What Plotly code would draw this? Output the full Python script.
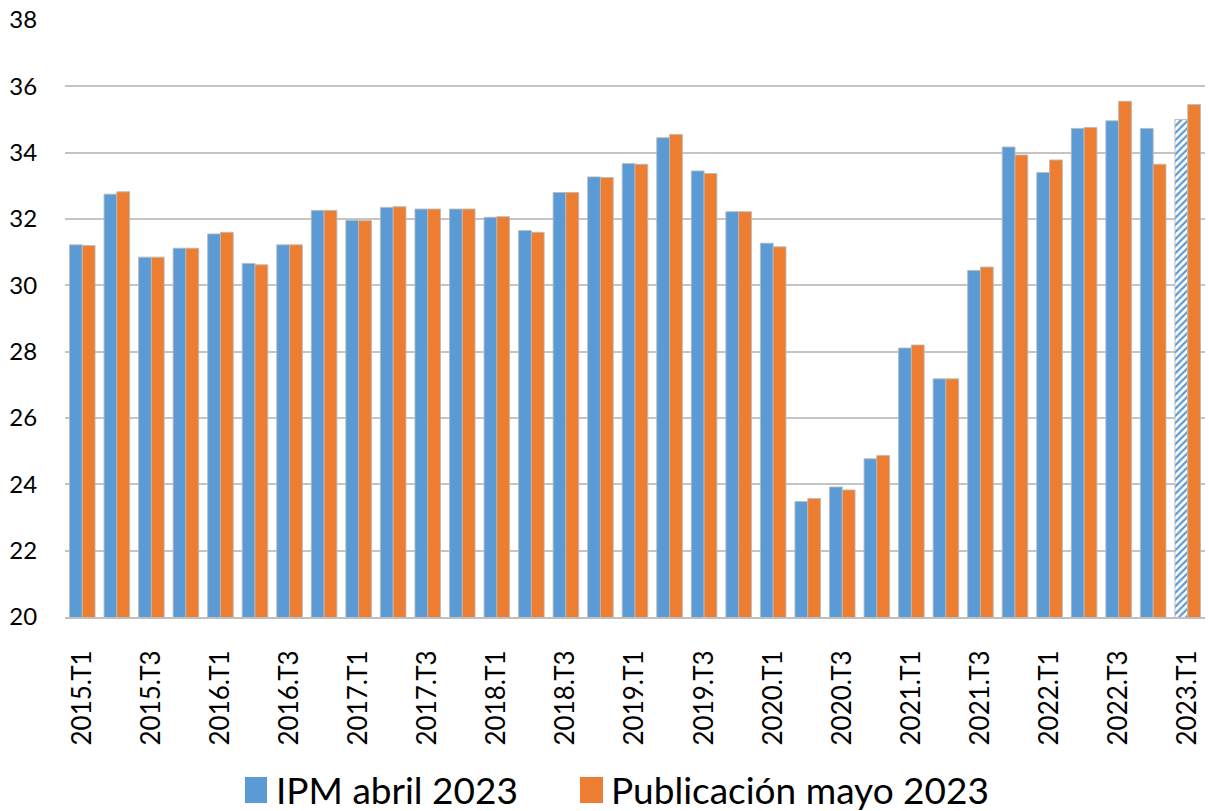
import plotly.graph_objects as go

categories = [f"{y}.T{q}" for y in range(2015, 2023) for q in range(1, 5)] + ["2023.T1"]

ipm_abril = [31.22, 32.75, 30.85, 31.12, 31.55, 30.66, 31.22, 32.26,
             31.96, 32.35, 32.30, 32.30, 32.05, 31.65, 32.80, 33.27,
             33.67, 34.45, 33.45, 32.22, 31.27, 23.48, 23.92, 24.77,
             28.11, 27.18, 30.45, 34.17, 33.40, 34.73, 34.96, 34.73,
             35.00]
pub_mayo = [31.20, 32.82, 30.85, 31.12, 31.60, 30.62, 31.22, 32.26,
            31.95, 32.37, 32.30, 32.30, 32.07, 31.60, 32.80, 33.25,
            33.65, 34.55, 33.37, 32.22, 31.16, 23.57, 23.83, 24.87,
            28.20, 27.18, 30.55, 33.93, 33.78, 34.76, 35.55, 33.65,
            35.45]
tick_labels = categories[::2]
series_names = ["IPM abril 2023", "Publicación mayo 2023"]

BLUE = "#5B9BD5"
ORANGE = "#ED7D31"
FONT = "Lato"

pattern_shapes = [""] * (len(categories) - 1) + ["/"]

fig = go.Figure()
fig.add_trace(go.Bar(
    x=categories, y=ipm_abril, name=series_names[0],
    marker=dict(color=BLUE, line=dict(color="rgba(185,185,185,0.9)", width=1),
                pattern=dict(shape=pattern_shapes, fgcolor=BLUE, bgcolor="white",
                             size=5, solidity=0.45, fillmode="replace")),
    showlegend=False,
))
fig.add_trace(go.Bar(
    x=categories, y=pub_mayo, name=series_names[1],
    marker=dict(color=ORANGE, line=dict(color="rgba(185,185,185,0.9)", width=1)),
    showlegend=False,
))

# manual legend (large squares as in the reference)
L, R, T, B = 65, 4, 20, 194
W, H = 1209, 811
pw, ph = W - L - R, H - T - B
def px(x): return (x - L) / pw
def py(y): return (H - B - y) / ph

shapes = []
annotations = []
for (x0, x1, color, tx, text) in [(245, 267, BLUE, 274, series_names[0]),
                                  (580, 603, ORANGE, 609, series_names[1])]:
    shapes.append(dict(type="rect", xref="paper", yref="paper",
                       x0=px(x0), x1=px(x1), y0=py(803), y1=py(777),
                       fillcolor=color, line=dict(width=0)))
    annotations.append(dict(xref="paper", yref="paper", x=px(tx), y=py(789),
                            xanchor="left", yanchor="middle", text=text,
                            showarrow=False, font=dict(family=FONT, size=37, color="#000000")))

fig.update_layout(
    width=W, height=H,
    margin=dict(l=L, r=R, t=T, b=B),
    plot_bgcolor="white", paper_bgcolor="white",
    barmode="group", bargap=0.26, bargroupgap=0.0,
    font=dict(family=FONT, color="#000000"),
    shapes=shapes, annotations=annotations,
    xaxis=dict(type="category", tickmode="array", tickvals=tick_labels, ticktext=tick_labels,
               tickangle=-90, tickfont=dict(size=26, family=FONT),
               showline=True, linecolor="#bfbfbf", linewidth=2,
               ticks="outside", ticklen=0, ticklabelstandoff=21,
               showgrid=False, range=[-0.5, len(categories) - 0.5]),
    yaxis=dict(range=[20, 38], dtick=2, tick0=20, showgrid=True, gridcolor="#c4c4c4", gridwidth=2,
               tickfont=dict(size=24, family=FONT), zeroline=False, showline=False,
               ticks="outside", ticklen=0, ticklabelstandoff=22),
)

fig.write_html("out.html", config={"displayModeBar": False},
               post_script="document.body.style.margin='0';document.body.style.overflow='hidden';")
